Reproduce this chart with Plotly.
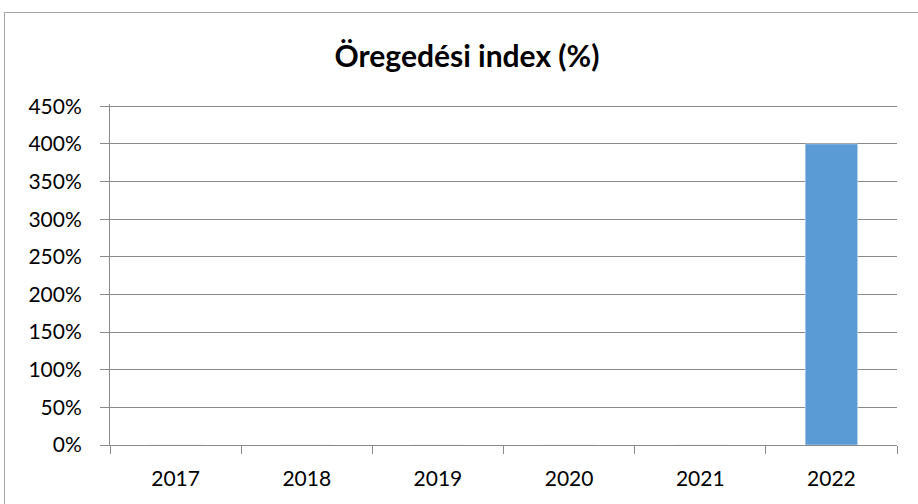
import plotly.graph_objects as go

years = ["2017", "2018", "2019", "2020", "2021", "2022"]
index_values = [0, 0, 0, 0, 0, 4.0]
y_ticks = [0, 0.5, 1.0, 1.5, 2.0, 2.5, 3.0, 3.5, 4.0, 4.5]
y_tick_labels = ["0%", "50%", "100%", "150%", "200%", "250%", "300%", "350%", "400%", "450%"]

FONT = "Lato, sans-serif"
AXIS_GRAY = "#8a8a8a"

fig = go.Figure(go.Bar(x=years, y=index_values, marker_color="#5B9BD5", width=0.4))

W, H = 918, 504
L, R, T, B = 110, 21, 104, 59
pw, ph = W - L - R, H - T - B

def px(x):
    return (x - L) / pw

def py(y):
    return (H - B - y) / ph

fig.update_layout(
    width=W, height=H,
    margin=dict(l=L, r=R, t=T, b=B, pad=0),
    paper_bgcolor="white", plot_bgcolor="white",
    showlegend=False,
    font=dict(family=FONT, size=21, color="black"),
    title=dict(text="<b>Öregedési index (%)</b>", x=467 / W, xanchor="center",
               y=1 - 56 / H, yanchor="middle", font=dict(size=30, family=FONT)),
    xaxis=dict(showline=True, linecolor=AXIS_GRAY, linewidth=1, ticks="outside",
               tickcolor=AXIS_GRAY, ticklen=8, showgrid=False, tickson="boundaries",
               ticklabelstandoff=15, tickfont=dict(size=21)),
    yaxis=dict(range=[0, 4.53], tickvals=y_ticks, ticktext=y_tick_labels,
               showgrid=True, gridcolor=AXIS_GRAY, gridwidth=1, zeroline=False,
               showline=True, linecolor=AXIS_GRAY, linewidth=1,
               ticks="outside", ticklen=9, tickcolor=AXIS_GRAY,
               ticklabelstandoff=14, tickfont=dict(size=21)),
    shapes=[dict(type="rect", xref="paper", yref="paper",
                 x0=px(4.5), x1=px(930), y0=py(520), y1=py(12.5),
                 line=dict(color="#a6a6a6", width=1), layer="below")],
)

fig.write_html("out.html", config={"displayModeBar": False},
               post_script="document.body.style.margin='0';document.body.style.padding='0';")
